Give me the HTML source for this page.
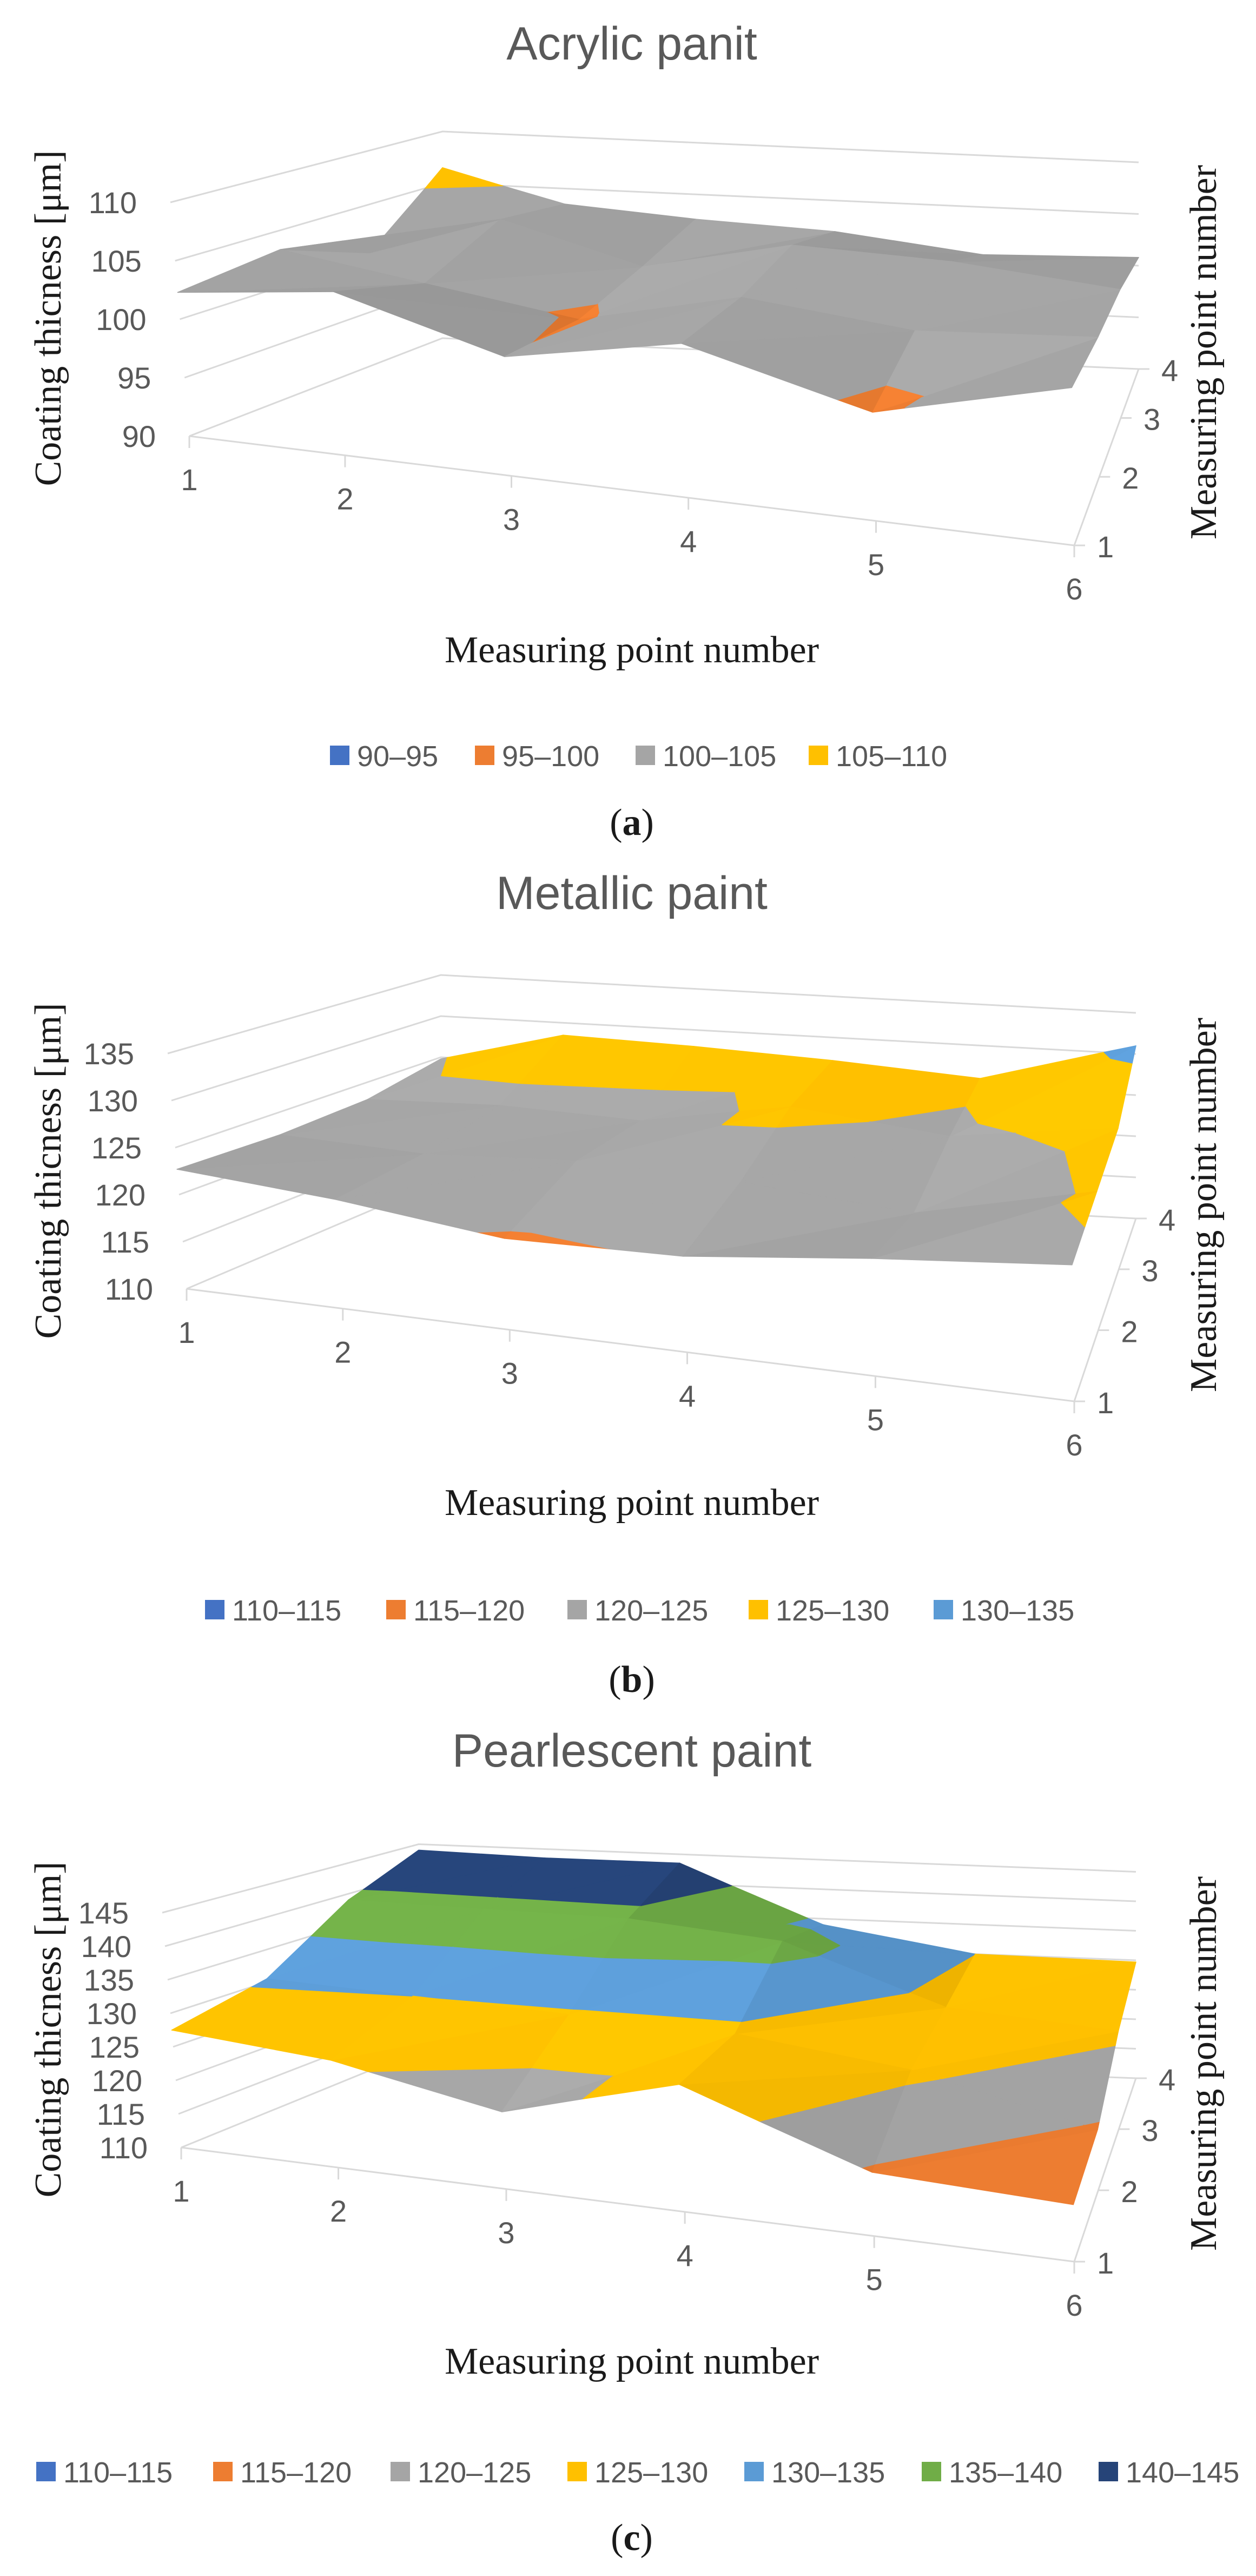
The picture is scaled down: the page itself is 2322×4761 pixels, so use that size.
<!DOCTYPE html>
<html><head><meta charset="utf-8">
<style>
html,body{margin:0;padding:0;background:#fff;}
svg{display:block;}
.t{font-family:"Liberation Sans",sans-serif;fill:#595959;}
.s{font-family:"Liberation Serif",serif;fill:#1a1a1a;}
</style></head>
<body>
<svg id="chart" xmlns="http://www.w3.org/2000/svg" width="2322" height="4761" viewBox="0 0 2322 4761">
<rect width="2322" height="4761" fill="#fff"/>
</svg>
<script>
// ---- data ----
const xCategories = [1, 2, 3, 4, 5, 6];
const depthCategories = [1, 2, 3, 4];
// Acrylic (rows = measuring point depth 1..4, values along x 1..6)
const acrylicD1 = [102.3, 104.0, 100.2, 103.2, 99.3, 103.5];
const acrylicD2 = [103.3, 101.5, 99.6, 103.0, 101.5, 102.5];
const acrylicD3 = [100.5, 104.5, 101.0, 104.0, 103.5, 102.0];
const acrylicD4 = [106.5, 103.5, 102.6, 102.0, 100.4, 100.8];
const acrylicTicks = [90, 95, 100, 105, 110];
const acrylicBands = ["90–95", "95–100", "100–105", "105–110"];
// Metallic
const metallicD1 = [122.7, 121.6, 119.7, 120.2, 122.5, 124.5];
const metallicD2 = [122.5, 122.0, 123.0, 122.5, 121.0, 125.5];
const metallicD3 = [123.0, 123.5, 123.0, 126.0, 124.0, 126.5];
const metallicD4 = [124.8, 128.5, 128.0, 127.2, 126.0, 131.0];
const metallicTicks = [110, 115, 120, 125, 130, 135];
const metallicBands = ["110–115", "115–120", "120–125", "125–130", "130–135"];
// Pearlescent
const pearlD1 = [127.5, 126.0, 121.5, 129.0, 119.5, 118.5];
const pearlD2 = [130.5, 130.0, 129.5, 129.0, 126.0, 119.5];
const pearlD3 = [139.0, 139.0, 139.0, 137.0, 128.0, 126.0];
const pearlD4 = [144.0, 143.5, 143.5, 134.0, 130.0, 129.7];
const pearlTicks = [110, 115, 120, 125, 130, 135, 140, 145];
const pearlBands = ["110–115", "115–120", "120–125", "125–130", "130–135", "135–140", "140–145"];

const bandColors = ["#4472C4", "#ED7D31", "#A5A5A5", "#FFC000", "#5B9BD5", "#70AD47", "#264478"];

const NS = "http://www.w3.org/2000/svg";
const svg = document.getElementById("chart");
function mk(tag, attrs, parent) {
  const e = document.createElementNS(NS, tag);
  for (const k in attrs) e.setAttribute(k, attrs[k]);
  parent.appendChild(e);
  return e;
}

const charts = [
  { key: "acrylic", title: "Acrylic panit", label: "a", rows: [acrylicD1, acrylicD2, acrylicD3, acrylicD4], ticks: acrylicTicks, bands: acrylicBands,
    FL: [350, 806], FR: [1986, 1008], BR: [2105, 682], BL: [818, 625], sF: 21.6, sB: 19.1,
    titleY: 110, legendY: 1397, labelY: 1543, legendX: [610, 878, 1175, 1495] },
  { key: "metallic", title: "Metallic paint", label: "b", rows: [metallicD1, metallicD2, metallicD3, metallicD4], ticks: metallicTicks, bands: metallicBands,
    FL: [345, 2382], FR: [1986, 2590], BR: [2100, 2252], BL: [815, 2182], sF: 17.4, sB: 15.2,
    titleY: 1680, legendY: 2976, labelY: 3127, legendX: [379, 714, 1049, 1384, 1726] },
  { key: "pearlescent", title: "Pearlescent paint", label: "c", rows: [pearlD1, pearlD2, pearlD3, pearlD4], ticks: pearlTicks, bands: pearlBands,
    FL: [335, 3969], FR: [1986, 4180], BR: [2100, 3841], BL: [774, 3790], sF: 12.4, sB: 10.9,
    titleY: 3265, legendY: 4569, labelY: 4713, legendX: [67, 394, 722, 1049, 1376, 1704, 2031] }
];

function shade(hex, f) {
  const r = parseInt(hex.substr(1, 2), 16), g = parseInt(hex.substr(3, 2), 16), b = parseInt(hex.substr(5, 2), 16);
  const c = v => Math.max(0, Math.min(255, Math.round(v * f)));
  return "rgb(" + c(r) + "," + c(g) + "," + c(b) + ")";
}

function clip(poly, level, keepAbove) {
  const out = [];
  for (let i = 0; i < poly.length; i++) {
    const a = poly[i], b = poly[(i + 1) % poly.length];
    const ina = keepAbove ? a.v >= level : a.v <= level;
    const inb = keepAbove ? b.v >= level : b.v <= level;
    if (ina) out.push(a);
    if (ina !== inb) {
      const t = (level - a.v) / (b.v - a.v);
      out.push({ x: a.x + (b.x - a.x) * t, d: a.d + (b.d - a.d) * t, v: level });
    }
  }
  return out;
}

charts.forEach(C => {
  const zmin = C.ticks[0], zmax = C.ticks[C.ticks.length - 1];
  const g = mk("g", {}, svg);
  
  

  function proj(x, d, v) {
    let u = (x - 1) / 5; u = u * (0.85 + 0.15 * u);
    let w = (d - 1) / 3; w = w * (1.25 - 0.25 * w);
    const fx = (1 - u) * (1 - w) * C.FL[0] + u * (1 - w) * C.FR[0] + u * w * C.BR[0] + (1 - u) * w * C.BL[0];
    const fy = (1 - u) * (1 - w) * C.FL[1] + u * (1 - w) * C.FR[1] + u * w * C.BR[1] + (1 - u) * w * C.BL[1];
    const s = C.sF + (C.sB - C.sF) * w;
    const h = v - zmin;
    const hf = h / (zmax - zmin);
    return [fx - hf * 35 * (1 - w) * (1 - 0.8 * u), fy - h * s];
  }

  const t = mk("text", { x: 1168, y: C.titleY, "text-anchor": "middle", "font-size": 86, class: "t" }, g);
  
  
  t.textContent = C.title;

  const grid = mk("g", { stroke: "#d9d9d9", "stroke-width": 3, fill: "none" }, g);
  
  
  C.ticks.forEach(z => {
    const a = proj(1, 1, z), b = proj(1, 4, z), c = proj(6, 4, z);
    const pl = mk("polyline", { points: a.join(",") + " " + b.join(",") + " " + c.join(",") }, grid);
    
    
    const lb = mk("text", { x: a[0] - 62, y: a[1] + 20, "text-anchor": "end", "font-size": 56, class: "t" }, g);
    
    
    lb.textContent = z;
  });
  const f1 = proj(1, 1, zmin), f6 = proj(6, 1, zmin), f64 = proj(6, 4, zmin);
  const fl = mk("polyline", { points: f1.join(",") + " " + f6.join(",") + " " + f64.join(","), stroke: "#d9d9d9", "stroke-width": 3, fill: "none" }, g);
  
  
  xCategories.forEach(xc => {
    const p = proj(xc, 1, zmin);
    const tk = mk("line", { x1: p[0], y1: p[1], x2: p[0], y2: p[1] + 22, stroke: "#d9d9d9", "stroke-width": 3 }, g);
    
    
    const lb = mk("text", { x: p[0], y: p[1] + 100, "text-anchor": "middle", "font-size": 56, class: "t" }, g);
    
    
    lb.textContent = xc;
  });
  depthCategories.forEach(dc => {
    const p = proj(6, dc, zmin);
    const tk = mk("line", { x1: p[0], y1: p[1], x2: p[0] + 20, y2: p[1], stroke: "#d9d9d9", "stroke-width": 3 }, g);
    
    
    const lb = mk("text", { x: p[0] + 42, y: p[1] + 22, "text-anchor": "start", "font-size": 56, class: "t" }, g);
    
    
    lb.textContent = dc;
  });

  const surf = mk("g", {}, g);
  
  
  const L = [-0.35, -0.55, 0.76];
  const vs = (zmax - zmin) / 2.5;
  for (let j = 3; j >= 1; j--) {
    for (let i = 1; i <= 5; i++) {
      const V = (x, d) => ({ x: x, d: d, v: C.rows[d - 1][x - 1] });
      const A = V(i, j), B = V(i + 1, j), Cc = V(i + 1, j + 1), D = V(i, j + 1);
      [[A, B, Cc], [A, Cc, D]].forEach(tri => {
        const p0 = tri[0], p1 = tri[1], p2 = tri[2];
        const e1 = [p1.x - p0.x, p1.d - p0.d, (p1.v - p0.v) / vs];
        const e2 = [p2.x - p0.x, p2.d - p0.d, (p2.v - p0.v) / vs];
        let n = [e1[1] * e2[2] - e1[2] * e2[1], e1[2] * e2[0] - e1[0] * e2[2], e1[0] * e2[1] - e1[1] * e2[0]];
        if (n[2] < 0) n = n.map(q => -q);
        const nl = Math.hypot(n[0], n[1], n[2]);
        const dot = (n[0] * L[0] + n[1] * L[1] + n[2] * L[2]) / nl;
        const f = 0.8 + 0.26 * dot;
        C.bands.forEach((bl, bi) => {
          const lo = zmin + bi * 5, hi = lo + 5;
          let poly = clip(tri, lo, true);
          if (poly.length < 3) return;
          poly = clip(poly, hi, false);
          if (poly.length < 3) return;
          const pts = poly.map(q => proj(q.x, q.d, q.v).join(",")).join(" ");
          const col = shade(bandColors[bi], f);
          const pg = mk("polygon", { points: pts, fill: col, stroke: col, "stroke-width": 1.5, "stroke-linejoin": "round" }, surf);
          
          
        });
      });
    }
  }

  const fy = C.FL[1];
  const lt = mk("text", { transform: "translate(112," + (fy - 218) + ") rotate(-90)", "text-anchor": "middle", "font-size": 70, class: "s" }, g);
  
  
  lt.textContent = "Coating thicness [μm]";
  const rt = mk("text", { transform: "translate(2248," + (fy - 155) + ") rotate(-90)", "text-anchor": "middle", "font-size": 70, class: "s" }, g);
  
  
  rt.textContent = "Measuring point number";
  const bt = mk("text", { x: 1168, y: fy + 418, "text-anchor": "middle", "font-size": 70, class: "s" }, g);
  
  
  bt.textContent = "Measuring point number";

  C.bands.forEach((bl, bi) => {
    const lx = C.legendX[bi];
    const it = mk("g", {}, g);
    
    
    mk("rect", { x: lx, y: C.legendY - 19, width: 36, height: 36, fill: bandColors[bi] }, it);
    const lt2 = mk("text", { x: lx + 50, y: C.legendY + 19, "font-size": 54, class: "t" }, it);
    lt2.textContent = bl;
  });

  const pl = mk("text", { x: 1168, y: C.labelY, "text-anchor": "middle", "font-size": 70, class: "s" }, g);
  
  
  pl.innerHTML = '(<tspan font-weight="bold">' + C.label + '</tspan>)';
});
</script>
</body></html>
